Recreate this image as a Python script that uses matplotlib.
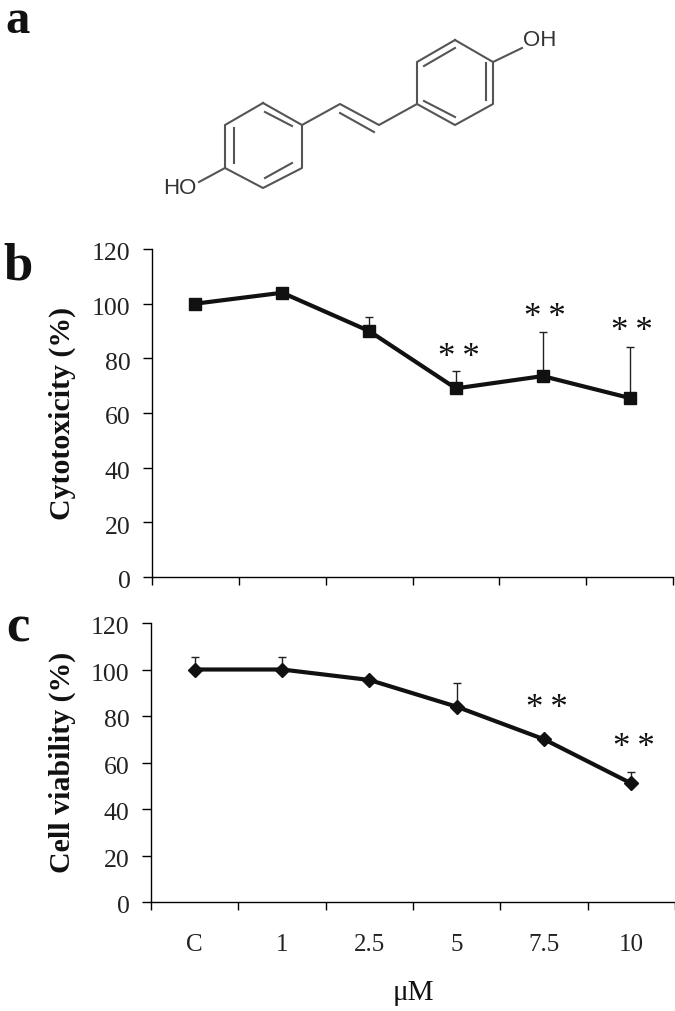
import matplotlib
matplotlib.use("Agg")
import matplotlib.pyplot as plt
from matplotlib.transforms import ScaledTranslation

W, H = 675, 1011
SERIF = "Liberation Serif"

doses = ["C", "1", "2.5", "5", "7.5", "10"]
y_ticks = [0, 20, 40, 60, 80, 100, 120]

cyto = [100, 104, 90, 69, 73.5, 65.5]
cyto_err = [0, 1.5, 5.3, 6.5, 16.3, 18.5]
cyto_stars = [None, None, None, 80, 94.5, 89.5]

viab = [100, 100, 95.5, 84, 70, 51]
viab_err = [5.3, 5.5, 0, 10, 0, 5]
viab_stars = [None, None, None, None, 83, 66]

panel_letters = ["a", "b", "c"]
letter_baselines = [33, 280, 642]
letter_sizes = [35, 38, 38]

# structure in panel a, in image pixels
ring_left = [(263, 103), (302, 125), (302, 168), (263, 188), (225, 168), (225, 125), (263, 103)]
ring_right = [(455, 40), (493, 62), (493, 104), (455, 125), (417, 104), (417, 62), (455, 40)]
bridge = [(302, 125), (340, 104), (379, 125), (417, 104)]
inner_bonds = [
    [(265, 112), (292, 126)], [(234, 128), (234, 163)], [(265, 178), (292, 163)],
    [(424, 66), (455, 48)], [(486, 63), (486, 100)], [(424, 101), (455, 117)],
    [(340, 113), (374, 132)],
]
oh_bonds = [[(493, 62), (522, 48)], [(225, 168), (199, 182)]]


def px_axes(fig, left, right, top, bottom):
    return fig.add_axes([left / W, 1 - bottom / H, (right - left) / W, (bottom - top) / H])


def panel(fig, box, values, errs, stars, marker, ms, ylabel, label_y):
    ax = px_axes(fig, *box)
    xs = [i + 0.5 for i in range(len(values))]
    ax.errorbar(xs, values, yerr=[[0] * len(errs), errs], fmt="none", ecolor="#222222",
                elinewidth=1, capsize=3.2, capthick=1)
    ax.plot(xs, values, color="#111111", lw=3, marker=marker, ms=ms, mfc="#111111",
            mec="#111111", solid_joinstyle="miter")
    for x, s in zip(xs, stars):
        if s is not None:
            ax.text(x + 0.03, s, "*\u2009*", family=SERIF, fontsize=25, ha="center", va="center",
                    color="#111111")
    ax.set_xlim(0, 6)
    ax.set_ylim(0, 120)
    ax.set_xticks(range(7))
    ax.set_yticks(y_ticks)
    ax.set_yticklabels([str(t) for t in y_ticks], family=SERIF, fontsize=18.5, color="#222222")
    ax.tick_params(axis="y", length=6.5, width=1, pad=9)
    ax.tick_params(axis="x", length=5.5, width=1, labelbottom=False, direction="out")
    # numbers sit a little under their ticks in the reference
    shift = ScaledTranslation(0, -2 / 72, fig.dpi_scale_trans)
    for lab in ax.get_yticklabels():
        lab.set_transform(lab.get_transform() + shift)
    for side in ("top", "right"):
        ax.spines[side].set_visible(False)
    for side in ("left", "bottom"):
        ax.spines[side].set_linewidth(1)
    fig.text(62 / W, 1 - label_y / H, ylabel, family=SERIF, weight="bold", fontsize=21.5,
             rotation=90, ha="center", va="center", color="#111111")
    return ax, xs


fig = plt.figure(figsize=(W / 100, H / 100), dpi=100)

# panel a
mol = fig.add_axes([0, 0, 1, 1], zorder=-1)
mol.set_xlim(0, W)
mol.set_ylim(H, 0)
mol.axis("off")
for seg in [ring_left, ring_right, bridge] + inner_bonds + oh_bonds:
    mol.plot([p[0] for p in seg], [p[1] for p in seg], color="#555555", lw=1.5)
mol.text(540, 40, "OH", family="Liberation Sans", fontsize=16, ha="center", va="center", color="#333333")
mol.text(180, 188, "HO", family="Liberation Sans", fontsize=16, ha="center", va="center", color="#333333")

ax_b, _ = panel(fig, (152, 673, 249, 577), cyto, cyto_err, cyto_stars, "s", 8, "Cytotoxicity (%)", 413)
ax_c, xs_c = panel(fig, (151, 675, 623, 902), viab, viab_err, viab_stars, "D", 7,
                   "Cell viability (%)", 762)

# dose labels sit well under the axis of the lower panel
for x, d in zip(xs_c, doses):
    ax_c.annotate(d, (x, 0), xytext=(0, -43), textcoords="offset pixels", family=SERIF,
                  fontsize=18, ha="center", va="center", color="#222222", annotation_clip=False)
fig.text(413 / W, 1 - 993 / H, "μM", family=SERIF, fontsize=21, ha="center", va="center", color="#111111")

for letter, y, size in zip(panel_letters, letter_baselines, letter_sizes):
    fig.text(18 / W, 1 - y / H, letter, family=SERIF, weight="bold", fontsize=size,
             ha="center", va="baseline", color="#111111")

fig.savefig("out.png", dpi=100)
